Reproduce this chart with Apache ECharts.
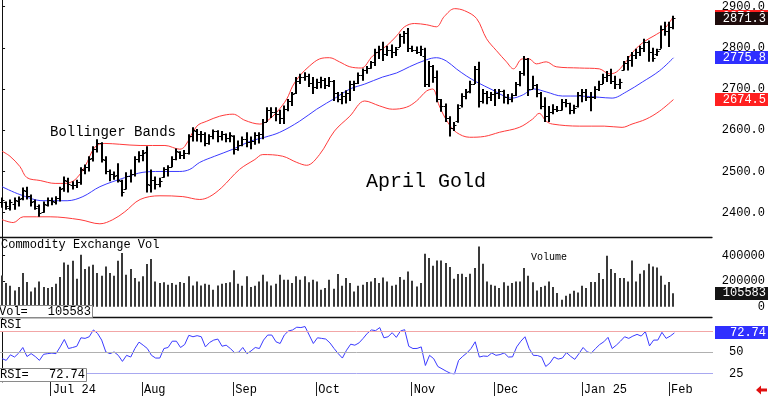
<!DOCTYPE html>
<html><head><meta charset="utf-8">
<script src="https://cdn.jsdelivr.net/npm/echarts@6/dist/echarts.min.js"></script>
<style>html,body{margin:0;padding:0;background:#fff}#c{width:768px;height:397px}</style>
</head><body><div id="c"></div>
<script>
// ---- data (daily bars, index 0 = mid June 2024 ... 162 = early Feb 2025) ----
const opens = [2425,2425,2412,2420,2428,2435,2452,2440,2428,2415,
2402,2418,2430,2426,2435,2460,2478,2468,2466,2475,
2503,2510,2532,2555,2568,2528,2500,2495,2492,2478,
2458,2490,2495,2530,2540,2548,2468,2480,2470,2486,
2505,2510,2530,2548,2540,2545,2585,2598,2590,2590,
2570,2585,2598,2585,2590,2580,2585,2555,2565,2578,
2572,2575,2588,2590,2620,2648,2645,2640,2630,2652,
2670,2690,2720,2728,2732,2715,2705,2718,2722,2710,
2720,2690,2675,2682,2690,2712,2715,2735,2745,2752,
2765,2790,2798,2785,2795,2790,2802,2828,2836,2800,
2795,2790,2780,2712,2755,2730,2675,2660,2630,2605,
2622,2662,2682,2695,2712,2748,2670,2690,2680,2688,
2690,2695,2680,2675,2685,2712,2738,2772,2700,2710,
2690,2660,2635,2645,2652,2650,2668,2665,2648,2660,
2685,2692,2680,2680,2700,2712,2730,2735,2720,2712,
2745,2762,2770,2782,2790,2800,2815,2790,2785,2798,
2845,2840,2850];
const highs = [2437,2427,2432,2437,2439,2461,2463,2444,2432,2420,
2427,2437,2437,2440,2463,2488,2485,2476,2480,2510,
2517,2537,2561,2578,2571,2537,2505,2500,2520,2480,
2498,2505,2537,2549,2552,2561,2505,2488,2485,2510,
2515,2537,2556,2549,2552,2590,2607,2603,2598,2595,
2590,2602,2600,2598,2592,2595,2588,2575,2585,2595,
2585,2595,2595,2627,2656,2656,2656,2650,2660,2676,
2693,2729,2737,2741,2737,2729,2725,2730,2727,2729,
2722,2693,2693,2697,2720,2720,2740,2750,2756,2768,
2798,2805,2815,2805,2808,2802,2834,2841,2848,2805,
2803,2805,2800,2768,2758,2745,2676,2665,2634,2620,
2663,2690,2700,2720,2756,2766,2700,2695,2693,2700,
2700,2698,2688,2690,2717,2744,2780,2775,2732,2712,
2693,2680,2659,2663,2659,2676,2676,2667,2662,2693,
2700,2700,2693,2707,2720,2737,2744,2749,2732,2725,
2768,2780,2790,2798,2805,2822,2818,2800,2798,2854,
2863,2863,2878];
const lows = [2412,2407,2405,2407,2415,2430,2432,2415,2407,2390,
2400,2415,2418,2420,2427,2451,2449,2456,2460,2468,
2493,2500,2524,2546,2522,2493,2476,2480,2473,2439,
2456,2473,2488,2522,2525,2449,2449,2456,2462,2485,
2488,2510,2527,2530,2530,2541,2573,2573,2571,2561,
2565,2578,2571,2575,2571,2571,2541,2550,2561,2559,
2554,2565,2568,2578,2620,2630,2622,2615,2615,2646,
2659,2688,2712,2720,2705,2688,2700,2702,2700,2705,
2671,2668,2663,2665,2671,2695,2712,2720,2737,2749,
2756,2773,2768,2780,2775,2780,2802,2810,2790,2790,
2785,2780,2705,2705,2715,2668,2645,2620,2585,2598,
2618,2655,2675,2690,2712,2655,2665,2663,2671,2659,
2676,2665,2663,2668,2683,2707,2732,2683,2700,2680,
2651,2620,2620,2639,2644,2648,2656,2639,2640,2655,
2668,2671,2646,2676,2695,2712,2717,2712,2700,2700,
2745,2745,2754,2773,2780,2790,2766,2766,2780,2798,
2829,2802,2845];
const closes = [2430,2415,2425,2430,2432,2455,2440,2425,2412,2400,
2420,2430,2428,2435,2458,2480,2470,2468,2475,2505,
2512,2530,2555,2570,2530,2500,2495,2490,2480,2450,
2490,2495,2530,2540,2545,2470,2480,2470,2478,2505,
2510,2530,2550,2540,2545,2585,2600,2590,2592,2570,
2585,2598,2585,2590,2580,2588,2555,2565,2578,2572,
2575,2588,2590,2620,2648,2645,2640,2630,2652,2670,
2688,2720,2728,2732,2715,2705,2718,2722,2710,2720,
2690,2675,2682,2690,2712,2715,2735,2745,2752,2765,
2790,2798,2785,2795,2790,2798,2828,2836,2800,2795,
2790,2798,2712,2755,2730,2675,2660,2630,2605,2612,
2655,2682,2692,2712,2748,2670,2690,2680,2688,2690,
2695,2680,2675,2685,2712,2738,2772,2700,2710,2690,
2660,2635,2645,2652,2650,2668,2665,2648,2655,2685,
2692,2680,2680,2700,2712,2730,2735,2720,2712,2718,
2762,2770,2782,2790,2800,2815,2790,2775,2792,2845,
2840,2850,2871.3];
const volumes = [245000,186000,165000,128000,154000,264000,194000,120000,151000,198000,
154000,147000,154000,180000,233000,347000,329000,361000,220000,408000,
296000,316000,329000,264000,243000,316000,264000,243000,361000,421000,
251000,296000,225000,198000,238000,335000,374000,198000,186000,191000,
173000,186000,173000,194000,186000,238000,167000,198000,167000,180000,
173000,133000,167000,180000,186000,191000,285000,180000,165000,238000,
154000,165000,198000,251000,198000,167000,180000,251000,212000,212000,
186000,238000,212000,238000,191000,212000,198000,133000,147000,212000,
141000,256000,165000,225000,186000,120000,165000,173000,194000,198000,
225000,186000,230000,
198000,165000,173000,233000,212000,277000,204000,159000,186000,416000,
382000,322000,363000,363000,343000,311000,220000,256000,259000,233000,
259000,303000,473000,337000,198000,173000,165000,147000,191000,165000,
186000,198000,198000,303000,243000,191000,128000,154000,165000,198000,
154000,107000,55000,86000,102000,125000,112000,165000,147000,194000,
194000,264000,217000,400000,296000,264000,225000,225000,198000,363000,
198000,259000,285000,337000,316000,308000,243000,173000,194000,105583];
const rsi = [42.5,40.5,47,44.4,49,55.6,45,48.4,45,40.5,
47.6,48.4,49,48.4,56.3,65,54.4,55.6,57,67,
66.3,68.2,76.2,72.2,64.3,50.4,48.4,50.4,46.4,39.3,
46.4,44.4,54.4,61.9,58.3,54.4,46.4,43.2,43.2,54.4,
55.6,63,63,55.6,59.1,69.9,68.2,69.5,68.2,56.3,
61.5,64.3,65.5,57.1,58.3,54.4,49.6,50,55.6,48.4,
51.6,55.6,54.4,64.3,70.2,70.2,62.3,60.3,70.2,75,
76.2,79.4,79,80.2,70.2,60.3,67,66.3,65.5,61,
54.4,48.4,43.2,52.4,59.5,58.3,61,66.3,72.2,76.2,
75.4,79,67,
68.2,73,67.5,75,76.5,57,54.4,54.5,56.3,34.5,
46.4,42.5,33.3,30.6,27.8,25.4,24.6,40.5,45.2,49.2,
54.4,62.3,44.4,45.6,45.2,49.2,46.4,47.3,49.2,44.4,
44.6,56.3,63,68.2,54.4,46.4,46.2,44.4,33.3,37.3,
44.4,42,43.2,49.6,45.2,41.7,48.4,55.6,50.4,49.2,
54.4,59.1,62.3,67.5,54.4,58.3,63,68.2,66.3,69,
71,69,74.2,57.5,64.3,64.3,73.4,66.3,69,72.74];
// Bollinger bands: [bar index, price]
const bbUpper = [[0,2549],[1.9,2537],[4.3,2512],[6,2485],[9.2,2478],[12.8,2471],[15.2,2471],[17.6,2480],[20,2512],[22.4,2559],[24.8,2568],[28.4,2566],[33.3,2563],[39.3,2563],[42.9,2554],[44.1,2561],[47,2610],[49.4,2622],[52.5,2634],[55.7,2639],[58.6,2624],[62.2,2615],[63.9,2622],[66.3,2644],[68.7,2676],[70.1,2707],[71.8,2732],[74.2,2756],[76.6,2773],[79,2776],[81.4,2766],[83.9,2754],[86.7,2751],[89.4,2780],[92.8,2805],[95.2,2829],[97.1,2851],[99.5,2859],[102.4,2856],[104.8,2851],[106.7,2876],[109.2,2895],[111.6,2890],[114.5,2871],[116.9,2822],[119.3,2793],[121.7,2766],[123.4,2749],[125.5,2773],[127.2,2773],[128.9,2761],[131.3,2766],[133.7,2754],[139.3,2751],[144.1,2749],[146.5,2737],[148.2,2741],[150.1,2761],[152.5,2793],[154.9,2815],[157.3,2829],[159.8,2846],[162,2876]];
const bbMiddle = [[0,2463],[4.3,2444],[9.9,2429],[15.7,2429],[19.5,2439],[23.6,2463],[29.6,2485],[34,2498],[38.1,2500],[42.9,2500],[45.3,2505],[47.7,2522],[51.3,2537],[55.7,2554],[59.8,2573],[63.4,2583],[67,2595],[71.8,2622],[75.9,2651],[80.7,2680],[83.9,2700],[87.5,2712],[91.8,2729],[95.2,2739],[98.3,2754],[102.4,2771],[104.8,2776],[107.2,2768],[109.6,2749],[112,2732],[114.5,2717],[118.3,2698],[121.7,2680],[123.1,2678],[125.5,2685],[128.4,2700],[131.3,2693],[135.2,2683],[139.3,2683],[144.1,2680],[147.2,2678],[150.6,2693],[154.5,2717],[158.6,2744],[162,2775.8]];
const bbLower = [[0,2383],[2.7,2376],[5.1,2390],[11.6,2390],[18.8,2383],[23.6,2373],[26.7,2383],[29.6,2402],[33.3,2432],[38.1,2441],[43.6,2439],[47.7,2432],[50.1,2439],[53,2461],[57.3,2505],[61,2529],[62.9,2541],[67.7,2537],[71.1,2522],[73.5,2515],[76.6,2541],[80.2,2598],[83.9,2634],[87.5,2671],[91.1,2659],[94.2,2651],[97.6,2656],[100,2671],[102.4,2695],[103.9,2700],[105.5,2659],[107.5,2620],[109.6,2595],[112.8,2583],[116.4,2585],[120,2595],[124.8,2607],[128,2627],[129.6,2641],[131.3,2622],[132.8,2615],[139.3,2610],[145.3,2610],[149.6,2607],[152,2615],[155.4,2627],[158.6,2646],[162,2674.5]];
const monthStarts = [12,34,56,76,99,119,140,161];
const monthLabels = ['Jul 24','Aug','Sep','Oct','Nov','Dec','Jan 25','Feb'];
const priceTicks = [2400,2500,2600,2700,2800,2900];
const volTicks = [0,200000,400000];
const rsiTicks = [25,50];
const rsiLevels = [75,50,25];

// ---- chart ----
const FONT = '"Liberation Mono", "DejaVu Sans Mono", monospace';
const chart = echarts.init(document.getElementById('c'), null, {renderer:'canvas'});
const XMIN = -0.5, XMAX = 171.3;
const tickPos = monthStarts.map(m => m - 0.3);
function xAxisHidden(g){
  return {type:'value', gridIndex:g, min:XMIN, max:XMAX, axisLine:{show:true, onZero:false, lineStyle:{color:'#111', width:1.3}},
    axisTick:{show:false}, axisLabel:{show:false}, splitLine:{show:false}};
}
const ohlcData = opens.map((o,i)=>[i,o,highs[i],lows[i],closes[i]]);
const volData = volumes.map((v,i)=>[i,v]);
const rsiData = rsi.map((v,i)=>[i,v]);
const lvlColors = ['#f2a6a6','#b0b0b0','#a8a8f0'];

const option = {
  animation:false,
  backgroundColor:'#fff',
  grid:[
    {left:0, top:0, width:713, height:237},
    {left:0, top:237, width:713, height:80},
    {left:0, top:317, width:713, height:65}
  ],
  xAxis:[
    xAxisHidden(0), xAxisHidden(1),
    {type:'value', gridIndex:2, min:XMIN, max:XMAX, axisLine:{show:false},
     axisTick:{show:true, inside:false, length:14, customValues:tickPos, lineStyle:{color:'#222', width:1}},
     axisLabel:{show:true, customValues:tickPos, align:'left', margin:2, padding:[0,0,0,2],
       fontFamily:FONT, fontSize:12, color:'#000',
       formatter:(v)=>{ let k=0,b=1e9; tickPos.forEach((t,j)=>{const d=Math.abs(t-v); if(d<b){b=d;k=j;}}); return monthLabels[k]; }},
     splitLine:{show:false}}
  ],
  yAxis:[
    {type:'value', gridIndex:0, position:'right', min:2341, max:2916, scale:true,
     axisLine:{show:true, lineStyle:{color:'#111', width:1}},
     axisTick:{show:true, length:3, customValues:priceTicks, lineStyle:{color:'#111'}},
     axisLabel:{customValues:priceTicks, align:'right', margin:53, fontFamily:FONT, fontSize:12, color:'#000', formatter:v=>v.toFixed(1)},
     splitLine:{show:false}},
    {type:'value', gridIndex:1, position:'right', min:-80800, max:546700,
     axisLine:{show:true, lineStyle:{color:'#111', width:1}},
     axisTick:{show:true, length:3, customValues:volTicks, lineStyle:{color:'#111'}},
     axisLabel:{customValues:volTicks, align:'right', margin:53, fontFamily:FONT, fontSize:12, color:'#000', formatter:v=>String(v)},
     splitLine:{show:false}},
    {type:'value', gridIndex:2, position:'right', min:15.1, max:91.4,
     axisLine:{show:true, lineStyle:{color:'#111', width:1}},
     axisTick:{show:true, length:3, customValues:rsiTicks, lineStyle:{color:'#111'}},
     axisLabel:{customValues:rsiTicks, align:'left', margin:16, fontFamily:FONT, fontSize:12, color:'#000', formatter:v=>String(v)},
     splitLine:{show:false}}
  ],
  series:[
    {type:'line', xAxisIndex:0, yAxisIndex:0, data:bbUpper, smooth:0.35, showSymbol:false, lineStyle:{color:'#ff3b3b', width:1}, z:2},
    {type:'line', xAxisIndex:0, yAxisIndex:0, data:bbMiddle, smooth:0.35, showSymbol:false, lineStyle:{color:'#3b3bff', width:1}, z:2},
    {type:'line', xAxisIndex:0, yAxisIndex:0, data:bbLower, smooth:0.35, showSymbol:false, lineStyle:{color:'#ff3b3b', width:1}, z:2},
    {type:'custom', xAxisIndex:0, yAxisIndex:0, data:ohlcData, encode:{x:0, y:[1,2,3,4]}, z:3, clip:true,
     renderItem:(params, api)=>{
       const i=api.value(0);
       const o=api.coord([i,api.value(1)]), h=api.coord([i,api.value(2)]), l=api.coord([i,api.value(3)]), c=api.coord([i,api.value(4)]);
       const x=Math.round(h[0]);
       return {type:'group', children:[
         {type:'line', shape:{x1:x,y1:h[1],x2:x,y2:l[1]}, style:{stroke:'#000', lineWidth:2}},
         {type:'line', shape:{x1:x-2.5,y1:Math.round(o[1])+0.5,x2:x,y2:Math.round(o[1])+0.5}, style:{stroke:'#000', lineWidth:1}},
         {type:'line', shape:{x1:x,y1:Math.round(c[1])+0.5,x2:x+2.5,y2:Math.round(c[1])+0.5}, style:{stroke:'#000', lineWidth:1}}
       ]};
     }},
    {type:'custom', xAxisIndex:1, yAxisIndex:1, data:volData, encode:{x:0, y:1}, z:3,
     renderItem:(params, api)=>{
       const i=api.value(0);
       const b=api.coord([i,0]), t=api.coord([i,api.value(1)]);
       const x=Math.round(t[0]);
       return {type:'line', shape:{x1:x,y1:b[1],x2:x,y2:t[1]}, style:{stroke:'#3a3a3a', lineWidth:2}};
     }},
    {type:'line', xAxisIndex:2, yAxisIndex:2, data:rsiData, showSymbol:false, lineStyle:{color:'#3b3bff', width:1}, z:3,
     markLine:{silent:true, symbol:'none', label:{show:false}, animation:false,
       data: rsiLevels.map((v,k)=>({yAxis:v, lineStyle:{color:lvlColors[k], type:'solid', width:1}}))}}
  ]
};
chart.setOption(option);

// ---- texts and right-edge value boxes ----
function txt(x,y,s,size,extra){
  return Object.assign({type:'text', x:x, y:y, z:100, style:Object.assign({text:s, font:size+'px '+FONT, fill:'#000', align:'left', verticalAlign:'middle'}, extra||{})});
}
function valueBox(yPix, s, bg){
  return [
    {type:'rect', z:100, shape:{x:715, y:Math.round(yPix-6.5), width:53, height:13}, style:{fill:bg}},
    txt(766, yPix, s, 12, {fill:'#fff', align:'right'})
  ];
}
const last = closes.length-1;
const yUp = chart.convertToPixel({yAxisIndex:0}, bbUpper[bbUpper.length-1][1]);
const yCl = chart.convertToPixel({yAxisIndex:0}, closes[last]);
const yMid = chart.convertToPixel({yAxisIndex:0}, bbMiddle[bbMiddle.length-1][1]);
const yLo = chart.convertToPixel({yAxisIndex:0}, bbLower[bbLower.length-1][1]);
const yVol = chart.convertToPixel({yAxisIndex:1}, volumes[last]);
const yRsi = chart.convertToPixel({yAxisIndex:2}, rsi[last]);

const g = [];
g.push(txt(50, 132, 'Bollinger Bands', 14));
g.push(txt(366, 182, 'April Gold', 20));
g.push(txt(1, 245, 'Commodity Exchange Vol', 12));
g.push(txt(531, 257, 'Volume', 10));
g.push(txt(0, 325, 'RSI', 12, {backgroundColor:'#fff', padding:[0,3,0,0]}));
// Vol= box
g.push({type:'rect', z:99, shape:{x:-1, y:305.5, width:93.5, height:12}, style:{fill:'#fff', stroke:'#8a8a8a', lineWidth:1}});
g.push(txt(-1, 311.5, 'Vol=', 12));
g.push(txt(91, 311.5, String(volumes[last]), 12, {align:'right'}));
// RSI= box
g.push({type:'rect', z:99, shape:{x:-1, y:368.5, width:87.5, height:13}, style:{fill:'#fff', stroke:'#8a8a8a', lineWidth:1}});
g.push(txt(0, 375, 'RSI=', 12));
g.push(txt(85, 375, rsi[last].toFixed(2), 12, {align:'right'}));
// right value boxes
g.push(...valueBox(yUp, bbUpper[bbUpper.length-1][1].toFixed(1), '#ff2020'));
g.push(...valueBox(yCl, closes[last].toFixed(1), '#1e0c0c'));
g.push(...valueBox(yMid, bbMiddle[bbMiddle.length-1][1].toFixed(1), '#2f2fff'));
g.push(...valueBox(yLo, bbLower[bbLower.length-1][1].toFixed(1), '#ff2020'));
g.push(...valueBox(yVol, String(volumes[last]), '#141414'));
g.push(...valueBox(yRsi, rsi[last].toFixed(2), '#2f2fff'));
// red arrow bottom right
g.push({type:'polygon', z:100, shape:{points:[[756,390],[761,385.5],[761,388.5],[767,388.5],[767,391.5],[761,391.5],[761,394.5]]}, style:{fill:'#e01010'}});
chart.setOption({graphic:g});
</script>
</body></html>
